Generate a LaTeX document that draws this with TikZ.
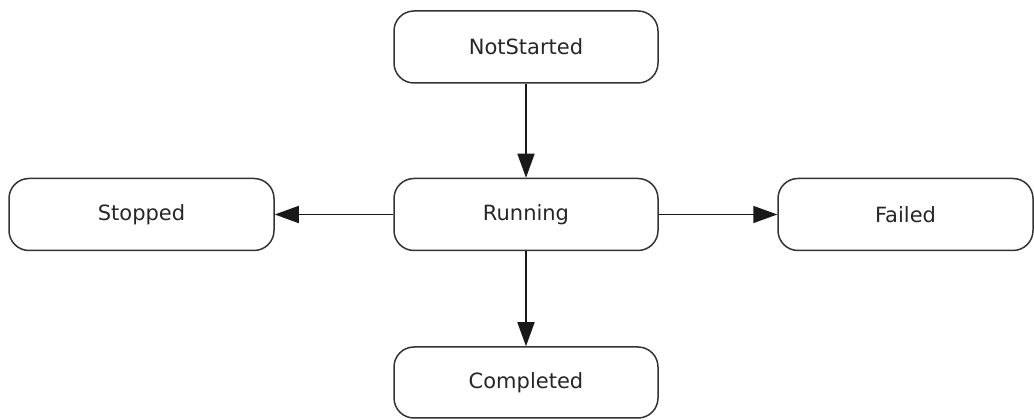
\documentclass[tikz,border=0pt]{standalone}
\usepackage{fontspec}
\setmainfont{DejaVu Sans}
\usetikzlibrary{arrows.meta}
\begin{document}
\begin{tikzpicture}[x=1pt,y=1pt,
  state/.style={draw=black!80, line width=1.5pt, rounded corners=20pt,
    minimum height=72pt, inner sep=0pt, font=\fontsize{21}{25}\selectfont, text=black!85},
  conn/.style={line width=1.6pt, draw=black!90, -{Triangle[length=24pt,width=17pt]}}]
\useasboundingbox (0,0) rectangle (1034,420);
\node[state, minimum width=264pt] (ns) at (526,373) {NotStarted};
\node[state, minimum width=264pt] (run) at (526,205.5) {Running};
\node[state, minimum width=265pt] (st) at (141.5,205.5) {Stopped};
\node[state, minimum width=255pt] (fa) at (905.5,205.5) {Failed};
\node[state, minimum width=264pt, minimum height=71pt] (co) at (526,37.5) {Completed};
\draw[conn] (ns) -- (run);
\draw[conn] (run) -- (st);
\draw[conn] (run) -- (fa);
\draw[conn] (run) -- (co);
\end{tikzpicture}
\end{document}
